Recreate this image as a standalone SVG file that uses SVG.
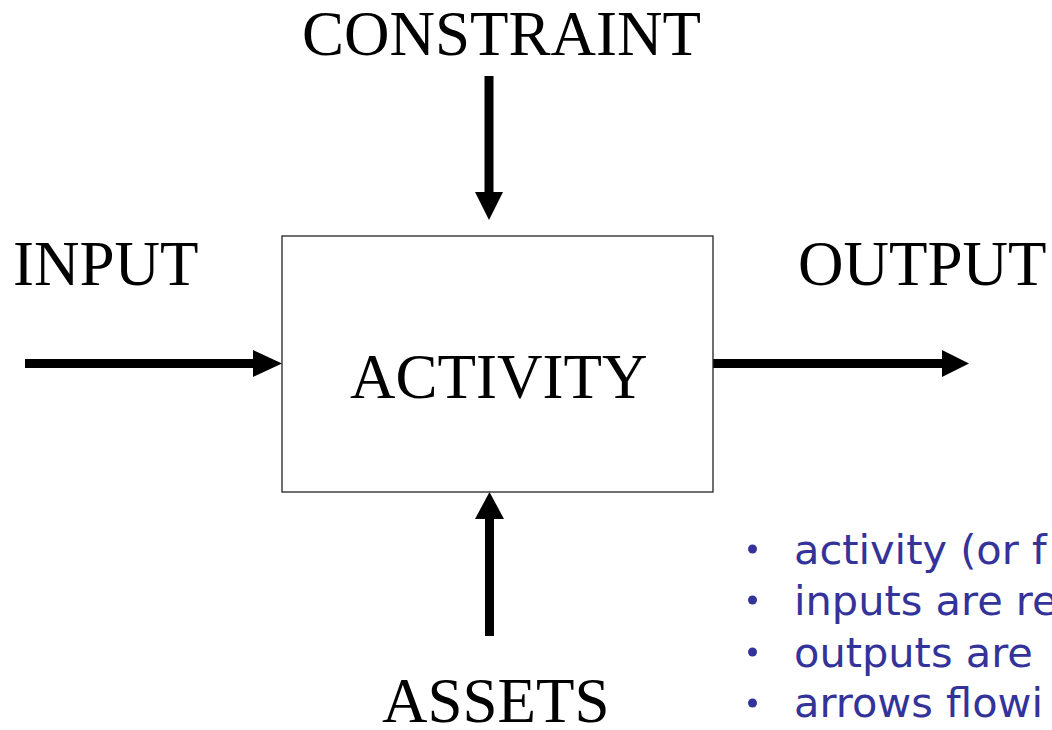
<svg xmlns="http://www.w3.org/2000/svg" width="1052" height="730" viewBox="0 0 1052 730">
<style>
.lbl{font-family:"Liberation Serif","Times New Roman",serif;font-size:63px;fill:#000}
.bul{font-family:"DejaVu Sans",Verdana,sans-serif;font-size:41.5px;fill:#333399}
.dot{fill:#333399}
.shaft{stroke:#000;stroke-width:9;fill:none}
.head{fill:#000}
</style>
<rect width="1052" height="730" fill="#fff"/>
<g id="connectors">
<g id="constraint-arrow">
<line class="shaft" x1="489" y1="76" x2="489" y2="194"/>
<polygon class="head" points="475,192 503,192 489,220"/>
</g>
<g id="input-arrow">
<line class="shaft" x1="25" y1="363.5" x2="255" y2="363.5"/>
<polygon class="head" points="253,350 253,377 282,363.5"/>
</g>
<g id="output-arrow">
<line class="shaft" x1="713" y1="363.5" x2="944" y2="363.5"/>
<polygon class="head" points="942,350 942,377 969,363.5"/>
</g>
<g id="assets-arrow">
<line class="shaft" x1="489.5" y1="636" x2="489.5" y2="517"/>
<polygon class="head" points="475,519 504,519 489.5,492"/>
</g>
</g>
<g id="activity">
<rect x="282" y="236" width="431" height="256" fill="none" stroke="#222" stroke-width="1.3"/>
<text class="lbl" x="350" y="398">ACTIVITY</text>
</g>
<g id="constraint"><text class="lbl" x="302" y="55">CONSTRAINT</text></g>
<g id="input"><text class="lbl" x="13" y="285">INPUT</text></g>
<g id="output"><text class="lbl" x="798" y="285">OUTPUT</text></g>
<g id="assets"><text class="lbl" x="382" y="722">ASSETS</text></g>
<g id="notes">
<circle class="dot" cx="752.5" cy="549" r="4.5"/>
<circle class="dot" cx="752.5" cy="600" r="4.5"/>
<circle class="dot" cx="752.5" cy="652" r="4.5"/>
<circle class="dot" cx="752.5" cy="703" r="4.5"/>
<text class="bul" x="794" y="564">activity (or f</text>
<text class="bul" x="794" y="615">inputs are re</text>
<text class="bul" x="794" y="667">outputs are</text>
<text class="bul" x="794" y="717">arrows flowi</text>
</g>
</svg>
